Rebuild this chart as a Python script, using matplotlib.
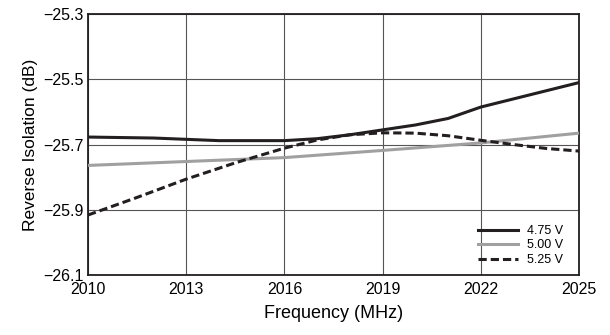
import matplotlib
matplotlib.use('Agg')
import matplotlib.pyplot as plt
import numpy as np

plt.rcParams['font.family'] = ['Liberation Sans', 'DejaVu Sans']

freq_475 = [2010, 2012, 2014, 2016, 2017, 2018, 2019, 2020, 2021, 2022, 2023, 2024, 2025]
iso_475 = [-25.677, -25.680, -25.688, -25.688, -25.682, -25.670, -25.655, -25.640, -25.620,
           -25.585, -25.560, -25.535, -25.510]

freq_500 = [2010, 2013, 2016, 2019, 2022, 2025]
iso_500 = [-25.764, -25.752, -25.740, -25.718, -25.695, -25.665]

freq_525 = [2010, 2011.5, 2013, 2014.5, 2016, 2017, 2018, 2019, 2020, 2021, 2022, 2023, 2024, 2025]
iso_525 = [-25.916, -25.862, -25.806, -25.756, -25.711, -25.686, -25.670, -25.664, -25.665,
           -25.673, -25.687, -25.700, -25.712, -25.720]

x_ticks = [2010, 2013, 2016, 2019, 2022, 2025]
y_ticks = [-26.1, -25.9, -25.7, -25.5, -25.3]

fig = plt.figure(figsize=(6.1, 3.35), dpi=100)
ax = fig.add_axes([0.1443, 0.179, 0.805, 0.779])

ax.plot(freq_475, iso_475, color='#231f20', lw=2.2, label='4.75 V', zorder=4)
ax.plot(freq_500, iso_500, color='#a0a0a0', lw=2.2, label='5.00 V', zorder=3)
ax.plot(freq_525, iso_525, color='#231f20', lw=2.2, ls=(0, (2.7, 1.3)), label='5.25 V', zorder=5)

ax.set_xlim(2010, 2025)
ax.set_ylim(-26.1, -25.3)
ax.set_xticks(x_ticks)
ax.set_yticks(y_ticks)
ax.set_yticklabels([f'{v:.1f}'.replace('-', '\u2212') for v in y_ticks])
ax.tick_params(length=0, labelsize=11.5)
ax.tick_params(axis='x', pad=5)
ax.tick_params(axis='y', pad=3)
ax.grid(True, color='#555555', lw=0.8)
for s in ax.spines.values():
    s.set_linewidth(1.3)
    s.set_color('#231f20')

ax.set_xlabel('Frequency (MHz)', fontsize=13, labelpad=6)
ax.set_ylabel('Reverse Isolation (dB)', fontsize=12.5, labelpad=4)

leg = ax.legend(loc='lower right', bbox_to_anchor=(0.968, 0.035), frameon=False, fontsize=9,
                handlelength=3.2, labelspacing=0.2, handletextpad=0.7, borderaxespad=0,
                borderpad=0)

fig.savefig('out.png', dpi=100)
